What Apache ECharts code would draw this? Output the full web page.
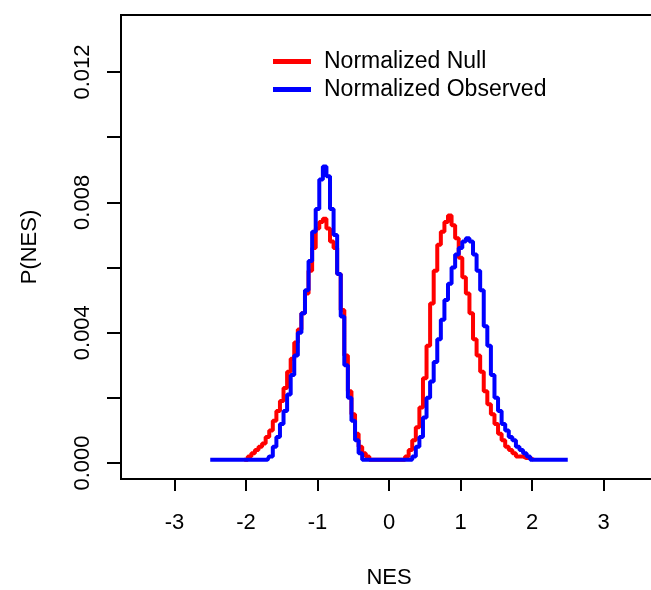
<!DOCTYPE html>
<html>
<head>
<meta charset="utf-8">
<script src="https://cdn.jsdelivr.net/npm/echarts@6/dist/echarts.min.js"></script>
<style>
html,body{margin:0;padding:0;background:#fff;}
#chart{width:651px;height:590px;}
</style>
</head>
<body>
<div id="chart"></div>
<script>
// NES grid (x values)
var nes = [
 -2.50,-2.45,-2.40,-2.35,-2.30,-2.25,-2.20,-2.15,-2.10,-2.05,
 -2.00,-1.95,-1.90,-1.85,-1.80,-1.75,-1.70,-1.65,-1.60,-1.55,
 -1.50,-1.45,-1.40,-1.35,-1.30,-1.25,-1.20,-1.15,-1.10,-1.05,
 -1.00,-0.95,-0.90,-0.85,-0.80,-0.75,-0.70,-0.65,-0.60,-0.55,
 -0.50,-0.45,-0.40,-0.35,-0.30,-0.25,-0.20,-0.15,-0.10,-0.05,
  0.00, 0.05, 0.10, 0.15, 0.20, 0.25, 0.30, 0.35, 0.40, 0.45,
  0.50, 0.55, 0.60, 0.65, 0.70, 0.75, 0.80, 0.85, 0.90, 0.95,
  1.00, 1.05, 1.10, 1.15, 1.20, 1.25, 1.30, 1.35, 1.40, 1.45,
  1.50, 1.55, 1.60, 1.65, 1.70, 1.75, 1.80, 1.85, 1.90, 1.95,
  2.00, 2.05, 2.10, 2.15, 2.20, 2.25, 2.30, 2.35, 2.40, 2.45,
  2.50
];
// Normalized Null P(NES)
var nullValues = [
 null,null,null,null,null,null,null,null,null,null,
 0.0001,0.0002,0.0003,0.0004,0.0005,0.0006,0.0008,0.0010,0.0013,0.0016,
 0.0019,0.0023,0.0028,0.0032,0.0037,0.0041,0.0046,0.0052,0.0059,0.0066,
 0.0072,0.0074,0.0075,0.0072,0.0068,0.0066,0.0058,0.0047,0.0033,0.0022,
 0.0015,0.0009,0.0005,0.0003,0.0002,0.0001,0.0001,0.0001,0.0001,0.0001,
 0.0001,0.0001,0.0001,0.0001,0.0001,0.0002,0.0004,0.0007,0.0011,0.0017,
 0.0026,0.0036,0.0049,0.0059,0.0067,0.0071,0.0074,0.0076,0.0073,0.0069,
 0.0063,0.0057,0.0052,0.0046,0.0038,0.0033,0.0028,0.0022,0.0018,0.0015,
 0.0012,0.0009,0.0007,0.0005,0.0004,0.0003,0.0002,0.0002,0.00015,0.00015,
 0.0001,null,null,null,null,null,null,null,null,null,
 null
];
// Normalized Observed P(NES)
var obsValues = [
 0.0001,0.0001,0.0001,0.0001,0.0001,0.0001,0.0001,0.0001,0.0001,0.0001,
 0.0001,0.0001,0.0001,0.0001,0.0001,0.0001,0.0001,0.0002,0.0005,0.0008,
 0.0012,0.0016,0.0021,0.0027,0.0033,0.0040,0.0046,0.0053,0.0062,0.0071,
 0.0078,0.0087,0.0091,0.0088,0.0078,0.0070,0.0058,0.0045,0.0030,0.0020,
 0.0013,0.0007,0.0003,0.0001,0.0001,0.0001,0.0001,0.0001,0.0001,0.0001,
 0.0001,0.0001,0.0001,0.0001,0.0001,0.0001,0.0001,0.0002,0.0005,0.0008,
 0.0014,0.0020,0.0025,0.0031,0.0038,0.0044,0.0050,0.0055,0.0060,0.0064,
 0.0066,0.0068,0.0069,0.0068,0.0064,0.0059,0.0053,0.0042,0.0036,0.0027,
 0.0020,0.0016,0.0012,0.0010,0.0008,0.0007,0.0005,0.0004,0.0003,0.0002,
 0.0001,0.0001,0.0001,0.0001,0.0001,0.0001,0.0001,0.0001,0.0001,0.0001,
 0.0001
];
var xTicks = [-3,-2,-1,0,1,2,3];
var yTicks = [0,0.002,0.004,0.006,0.008,0.010,0.012];
var yLabels = [0,0.004,0.008,0.012];
var seriesNames = ['Normalized Null','Normalized Observed'];

var FONT = '"Liberation Sans", Arial, sans-serif';
var chart = echarts.init(document.getElementById('chart'), null, {renderer:'canvas'});
function pairs(vals){ return nes.map(function(x,i){ return [x, vals[i]]; }); }

chart.setOption({
  animation:false,
  backgroundColor:'#fff',
  grid:{left:121, top:15, right:-6, bottom:111, show:true, borderColor:'#000', borderWidth:2,
        containLabel:false, outerBoundsMode:'none'},
  legend:{
    data:seriesNames, orient:'vertical', left:268, top:45,
    icon:'rect', itemWidth:38, itemHeight:5, itemGap:5,
    textStyle:{fontFamily:FONT, fontSize:23, color:'#000', lineHeight:23, padding:[0,0,0,8]},
    selectedMode:false
  },
  xAxis:{
    type:'value', min:-3.748, max:3.748,
    name:'NES', nameLocation:'middle', nameGap:88,
    nameTextStyle:{fontFamily:FONT, fontSize:22, color:'#000'},
    axisLine:{show:false, onZero:false},
    splitLine:{show:false},
    axisTick:{show:true, customValues:xTicks, length:12, lineStyle:{color:'#000', width:2}},
    axisLabel:{customValues:xTicks, margin:33, fontFamily:FONT, fontSize:22, color:'#000'}
  },
  yAxis:{
    type:'value', min:-0.000491, max:0.013752,
    name:'P(NES)', nameLocation:'middle', nameGap:80, nameRotate:90,
    nameTextStyle:{fontFamily:FONT, fontSize:22, color:'#000'},
    axisLine:{show:false, onZero:false},
    splitLine:{show:false},
    axisTick:{show:true, customValues:yTicks, length:14, lineStyle:{color:'#000', width:2}},
    axisLabel:{customValues:yLabels, rotate:90, margin:27, fontFamily:FONT, fontSize:22, color:'#000',
      formatter:function(v){ return v.toFixed(3); }}
  },
  series:[
    {name:seriesNames[0], type:'line', data:pairs(nullValues), showSymbol:false, symbol:'none', step:'middle',
     color:'#ff0000', lineStyle:{color:'#ff0000', width:4}, connectNulls:false},
    {name:seriesNames[1], type:'line', data:pairs(obsValues), showSymbol:false, symbol:'none', step:'middle',
     color:'#0000ff', lineStyle:{color:'#0000ff', width:4}, connectNulls:false}
  ]
});
</script>
</body>
</html>
